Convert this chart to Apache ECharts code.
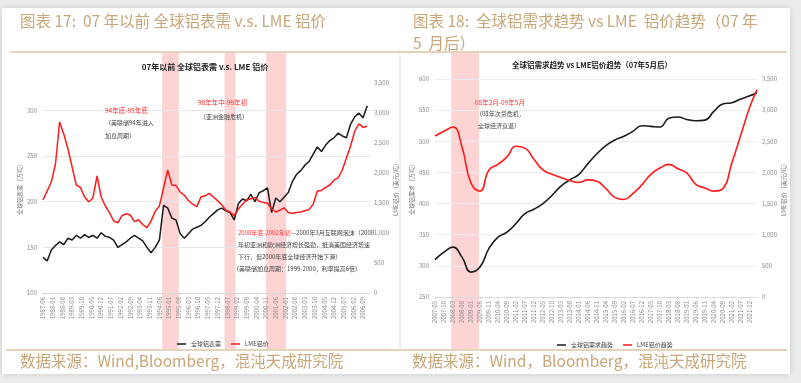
<!DOCTYPE html>
<html><head><meta charset="utf-8">
<script src="https://cdn.jsdelivr.net/npm/echarts@6/dist/echarts.min.js"></script>
<style>html,body{margin:0;padding:0;background:#ececec;}#c{width:801px;height:383px;}</style>
</head><body><div id="c"></div>
<script>
// ---------- Left chart (pre-2007), monthly index from 1987-06, sampled every 3 months ----------
const leftStep = 3;
const leftDemand = [139,135,147,152,156,153,160,158,163,160,164,161,163,160,166,162,161,158,150,153,156,160,163,160,157,150,144,150,158,196,193,182,180,165,160,165,170,172,174,178,183,187,191,193,190,188,180,198,203,201,208,200,210,212,215,188,204,200,205,210,222,230,234,240,244,252,260,255,262,267,270,275,272,270,285,293,297,292,305];
const leftPrice = [1550,1700,1850,2150,2850,2650,2400,2100,1800,1760,1600,1520,1580,1950,1600,1450,1340,1200,1170,1290,1320,1300,1190,1220,1140,1090,1200,1360,1450,1750,2050,1800,1790,1680,1630,1540,1480,1440,1600,1620,1660,1600,1540,1470,1380,1350,1290,1400,1480,1550,1570,1590,1530,1510,1500,1400,1350,1380,1420,1340,1330,1340,1350,1370,1390,1480,1700,1710,1760,1800,1880,1920,2050,2250,2450,2700,2820,2760,2780];
const leftBands = [[86,98],[131,139],[161,175.5]];
// ---------- Right chart (post 2007-05), monthly index from 2007-05, sampled every 5 months (+ last) ----------
const rightMonths = [0,5,10,15,20,25,30,35,40,45,50,55,60,65,70,75,80,85,90,95,100,105,110,115,120,125,130,135,140,145,150,155,160,165,170,175,179];
const rightDemand = [310,322,330,314,290,298,328,346,354,368,384,391,400,413,428,438,447,464,480,493,502,508,516,525,524,523,537,539,535,533,534,548,560,562,568,573,578];
const rightPrice = [2585,2660,2730,2410,1830,1700,2040,2130,2250,2420,2390,2210,2040,1970,1920,1870,1840,1880,1860,1740,1600,1565,1660,1800,1970,2070,2130,2060,1990,1810,1750,1700,1740,2150,2600,3050,3330];
const rightBands = [[9,24.5]];

const TAN = '#c9a679', FONT = '"Noto Sans CJK SC", sans-serif';
const fmtMonth = (base, baseMonth) => v => {
  const t = baseMonth - 1 + Math.round(v);
  const y = base + Math.floor(t / 12), m = t % 12 + 1;
  return y + '-' + (m < 10 ? '0' + m : m);
};
const axLbl = {color:'#8a8a8a', fontSize:6, fontFamily:FONT};
const chart = echarts.init(document.getElementById('c'), null, {renderer:'canvas'});

function txt(x, y, text, size, color, extra) {
  return Object.assign({type:'text', x, y, z:5, style:Object.assign({text, fill:color, fontSize:size, fontFamily:FONT, textVerticalAlign:'middle'}, extra||{})});
}

const graphics = [
  {type:'rect', z:-100, shape:{x:2, y:8, width:788, height:366}, style:{fill:'#fff', shadowBlur:6, shadowColor:'rgba(0,0,0,0.15)'}},
  {type:'line', z:1, shape:{x1:10, y1:52, x2:787, y2:52}, style:{stroke:'#dcc6a6', lineWidth:1.5}},
  {type:'line', z:1, shape:{x1:6, y1:350, x2:787, y2:350}, style:{stroke:'#dcc6a6', lineWidth:1.5}},
  {type:'line', z:1, shape:{x1:400, y1:53, x2:400, y2:349}, style:{stroke:'#dedede', lineWidth:1}},
  txt(20, 21, '图表 17:  07 年以前 全球铝表需 v.s. LME 铝价', 15.5, TAN),
  txt(413, 21, '图表 18:  全球铝需求趋势 vs LME  铝价趋势（07 年', 15.5, TAN),
  txt(413, 43, '5  月后）', 15.5, TAN),
  txt(20, 361, '数据来源：Wind,Bloomberg，混沌天成研究院', 15.5, TAN),
  txt(412, 361, '数据来源：Wind，Bloomberg，混沌天成研究院', 15.5, TAN),
  txt(205, 67, '07年以前 全球铝表需 v.s. LME 铝价', 8, '#222', {fontWeight:'bold', textAlign:'center'}),
  txt(592, 65, '全球铝需求趋势 vs LME铝价趋势（07年5月后）', 7.5, '#222', {fontWeight:'bold', textAlign:'center'}),
  txt(105, 111, '94年底-95年底', 6.5, '#ff3030'),
  txt(105, 123, '（美联储94年进入', 6, '#444'),
  txt(105, 136, '加息周期）', 6, '#444'),
  txt(198, 103, '98年年中-99年初', 6.5, '#ff3030'),
  txt(200, 117, '（亚洲金融危机）', 6, '#444'),
  txt(238, 233, '{r|2000年底-2002年初}{k|—2000年3月互联网泡沫（2000}', 6, '#444', {rich:{r:{fill:'#ff3030', fontSize:6, fontFamily:FONT}, k:{fill:'#444', fontSize:6, fontFamily:FONT}}}),
  txt(238, 245, '年初亚洲和欧洲经济增长强劲，抵消美国经济增速', 6, '#444'),
  txt(238, 257, '下行，但2000年底全球经济开始下滑）', 6, '#444'),
  txt(233, 269, '（美联储加息周期：1999-2000，利率提高6倍）', 6, '#444'),
  txt(475, 103, '08年2月-09年5月', 6.5, '#ff3030'),
  txt(476, 114, '（08年次贷危机，', 6, '#444'),
  txt(478, 126, '全球经济衰退）', 6, '#444')
];

const option = {
  animation:false,
  backgroundColor:'#ececec',
  textStyle:{fontFamily:FONT},
  legend:[
    {data:['全球铝表需','LME铝价'], left:172, top:336, icon:'rect', itemWidth:9, itemHeight:1.5, itemGap:10, textStyle:{fontSize:6, color:'#444', fontFamily:FONT}},
    {data:['全球铝需求趋势','LME铝价趋势'], left:552, top:337, icon:'rect', itemWidth:9, itemHeight:1.5, itemGap:10, textStyle:{fontSize:6, color:'#444', fontFamily:FONT}}
  ],
  grid:[
    {left:43, right:431, top:83, bottom:90},
    {left:435, right:44, top:79, bottom:86}
  ],
  xAxis:[
    {type:'value', gridIndex:0, min:0, max:236, interval:7,
     axisLine:{lineStyle:{color:'#d9d9d9'}}, axisTick:{show:true, length:2, lineStyle:{color:'#d9d9d9'}},
     splitLine:{show:false},
     axisLabel:Object.assign({rotate:90, margin:4, showMaxLabel:false, formatter:fmtMonth(1987,6)}, axLbl)},
    {type:'value', gridIndex:1, min:0, max:179, interval:5,
     axisLine:{lineStyle:{color:'#d9d9d9'}}, axisTick:{show:true, length:2, lineStyle:{color:'#d9d9d9'}},
     splitLine:{show:false},
     axisLabel:Object.assign({rotate:90, margin:4, showMaxLabel:false, formatter:fmtMonth(2007,5)}, axLbl)}
  ],
  yAxis:[
    {type:'value', gridIndex:0, min:100, max:330, interval:50, name:'全球铝表需（万吨）', nameLocation:'middle', nameRotate:90, nameGap:14,
     nameTextStyle:{fontSize:6, color:'#777', fontFamily:FONT},
     axisLine:{show:false}, axisTick:{show:false},
     splitLine:{showMaxLine:false, lineStyle:{color:'#e6e6e6'}},
     axisLabel:Object.assign({margin:6, showMaxLabel:false}, axLbl)},
    {type:'value', gridIndex:0, position:'right', min:0, max:3500, interval:500, name:'LME铝价（美元/吨）', nameLocation:'middle', nameRotate:90, nameGap:17,
     nameTextStyle:{fontSize:6, color:'#777', fontFamily:FONT},
     axisLine:{show:false}, axisTick:{show:false}, splitLine:{show:false},
     axisLabel:Object.assign({margin:4, formatter:v => v.toLocaleString('en-US')}, axLbl)},
    {type:'value', gridIndex:1, min:250, max:600, interval:50, name:'全球铝需求（万吨）', nameLocation:'middle', nameRotate:90, nameGap:15,
     nameTextStyle:{fontSize:6, color:'#777', fontFamily:FONT},
     axisLine:{show:false}, axisTick:{show:false},
     splitLine:{lineStyle:{color:'#ececec'}},
     axisLabel:Object.assign({margin:6}, axLbl)},
    {type:'value', gridIndex:1, position:'right', min:0, max:3500, interval:500, name:'LME铝价（美元/吨）', nameLocation:'middle', nameRotate:90, nameGap:16,
     nameTextStyle:{fontSize:6, color:'#777', fontFamily:FONT},
     axisLine:{show:false}, axisTick:{show:false}, splitLine:{show:false},
     axisLabel:Object.assign({margin:5}, axLbl)}
  ],
  series:[
    {name:'全球铝表需', type:'line', xAxisIndex:0, yAxisIndex:0, z:3, showSymbol:false, symbol:'none',
     data:leftDemand.map((v,i)=>[i*leftStep, v]), lineStyle:{color:'#1a1a1a', width:1.5}, itemStyle:{color:'#1a1a1a'}},
    {name:'LME铝价', type:'line', xAxisIndex:0, yAxisIndex:1, z:3, showSymbol:false, symbol:'none',
     data:leftPrice.map((v,i)=>[i*leftStep, v]), lineStyle:{color:'#ff1a1a', width:1.5}, itemStyle:{color:'#ff1a1a'}},
    {name:'全球铝需求趋势', type:'line', xAxisIndex:1, yAxisIndex:2, z:3, smooth:true, showSymbol:false, symbol:'none',
     data:rightDemand.map((v,i)=>[rightMonths[i], v]), lineStyle:{color:'#1a1a1a', width:1.6}, itemStyle:{color:'#1a1a1a'}},
    {name:'LME铝价趋势', type:'line', xAxisIndex:1, yAxisIndex:3, z:3, smooth:true, showSymbol:false, symbol:'none',
     data:rightPrice.map((v,i)=>[rightMonths[i], v]), lineStyle:{color:'#ff1a1a', width:1.6}, itemStyle:{color:'#ff1a1a'}}
  ],
  graphic:{elements:graphics}
};
chart.setOption(option);

// shaded crisis bands, positioned through the x axes
const bands = [];
leftBands.forEach(b => {
  const x1 = chart.convertToPixel({xAxisIndex:0}, b[0]), x2 = chart.convertToPixel({xAxisIndex:0}, b[1]);
  bands.push({type:'rect', z:-50, shape:{x:x1, y:53, width:x2-x1, height:296}, style:{fill:'#fdd3d3'}});
});
rightBands.forEach(b => {
  const x1 = chart.convertToPixel({xAxisIndex:1}, b[0]), x2 = chart.convertToPixel({xAxisIndex:1}, b[1]);
  bands.push({type:'rect', z:-50, shape:{x:x1, y:53, width:x2-x1, height:296}, style:{fill:'#fdd3d3'}});
});
chart.setOption({graphic:{elements:graphics.concat(bands)}}, {replaceMerge:['graphic']});
</script></body></html>
